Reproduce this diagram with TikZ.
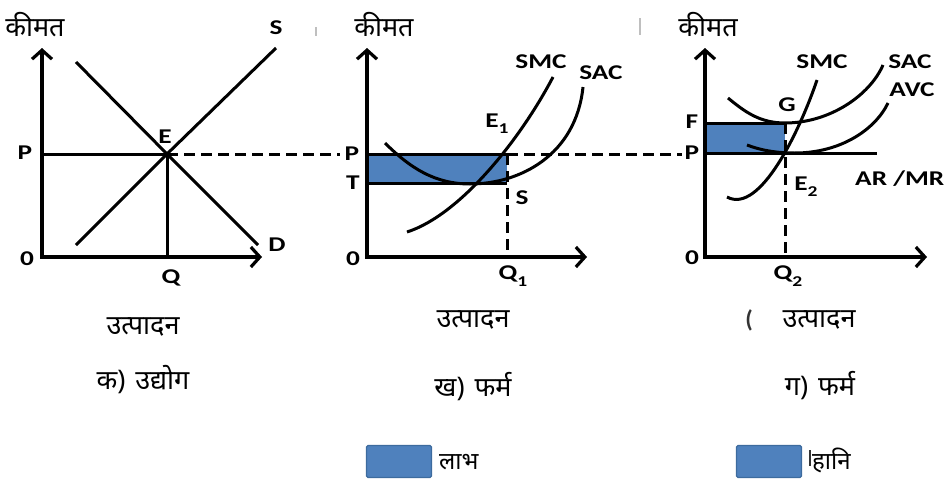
\documentclass[tikz,border=0pt]{standalone}
\usepackage{fontspec}
\setmainfont{Carlito}
\newfontfamily\hindi[Script=Devanagari]{Noto Sans}
\usetikzlibrary{arrows.meta}
\definecolor{areablue}{HTML}{4F81BD}
\definecolor{areaedge}{HTML}{3D6B9E}
\newcommand\sx[1]{\scalebox{1.3}[1]{#1}}
\newcommand\sub[1]{\raisebox{-0.3em}{\fontsize{15}{15}\selectfont #1}}
\begin{document}
\begin{tikzpicture}[x=1pt,y=-1pt,
  axis/.style={line width=3.2pt, line join=miter, {Straight Barb[length=9pt,width=20pt]}-{Straight Barb[length=9pt,width=20pt]}},
  curve/.style={line width=3pt},
  guide/.style={line width=3pt},
  dashline/.style={line width=3pt, dash pattern=on 11pt off 6pt},
  lbl/.style={font=\fontsize{21}{21}\selectfont\bfseries, inner sep=0pt},
  hin/.style={font=\hindi\fontsize{27}{30}\selectfont, inner sep=0pt},
  hintop/.style={font=\hindi\fontsize{27}{30}\selectfont, inner sep=0pt},
  hinleg/.style={font=\hindi\fontsize{24}{26}\selectfont, inner sep=0pt},
  legbox/.style={fill=areablue, draw=areaedge, line width=1.2pt, rounded corners=1.5pt},
  stray/.style={draw=black!25, line width=1.5pt}
]
\useasboundingbox (0,0) rectangle (949,479);

% ---------- Panel 1 ----------
\coordinate (Y1) at (42,48);
\coordinate (O1) at (42,257);
\coordinate (X1) at (262,257);
\coordinate (P1) at (42,154);
\coordinate (E) at (167,154);
\coordinate (Q) at (167,257);
\draw[axis] (Y1) -- (O1) -- (X1);
\draw[guide] (P1) -- (E) -- (Q);
\coordinate (Dt) at (76,62);
\coordinate (Db) at (258,245);
\coordinate (Sb) at (76,245);
\coordinate (St) at (276,48);
\draw[curve] (Dt) -- (E) -- (Db);
\draw[curve] (Sb) -- (E) -- (St);
\coordinate (Pd2) at (340,154);
\draw[dashline] (E) -- (Pd2);

\node[hintop] (k1) at (35,25) {कीमत};
\node[lbl] (lS) at (276,28) {\sx{S}};
\node[lbl] (lP1) at (25,153) {\sx{P}};
\node[lbl] (lE) at (165,137) {\sx{E}};
\node[lbl] (l01) at (27,259) {\sx{0}};
\node[lbl] (lQ) at (171,278) {\sx{Q}};
\node[lbl] (lD) at (277,245) {\sx{D}};

% ---------- Panel 2 ----------
\coordinate (Y2) at (367,48);
\coordinate (O2) at (367,257);
\coordinate (X2) at (587,257);
\coordinate (P2) at (367,154);
\coordinate (T2) at (367,183);
\coordinate (E1) at (507,154);
\coordinate (S2) at (507,183);
\coordinate (Q1) at (507,257);
\fill[areablue] (P2) rectangle (S2);
\draw[axis] (Y2) -- (O2) -- (X2);
\draw[guide] (P2) -- (E1);
\draw[guide] (T2) -- (S2);
\draw[dashline] (E1) -- (Q1);
\coordinate (Pd3) at (682,154);
\draw[dashline] (E1) -- (Pd3);
\draw[curve] (407,232) .. controls (460,215) and (520,140) .. (553,77);
\draw[curve] (385,143) .. controls (410,168) and (435,184) .. (470,184)
             .. controls (520,184) and (576,155) .. (583,87);

\node[hintop] (k2) at (384,25) {कीमत};
\node[lbl] (lP2) at (352,154) {\sx{P}};
\node[lbl] (lT) at (353,183) {\sx{T}};
\node[lbl] (l02) at (353,259) {\sx{0}};
\node[lbl] (lQ1) at (513,276) {\sx{Q\sub{1}}};
\node[lbl] (lS2) at (522,198) {\sx{S}};
\node[lbl] (lE1) at (497,124) {\sx{E\sub{1}}};
\node[lbl] (lSMC2) at (541,62) {\sx{SMC}};
\node[lbl] (lSAC2) at (601,73) {\sx{SAC}};

% ---------- Panel 3 ----------
\coordinate (Y3) at (705,48);
\coordinate (O3) at (705,257);
\coordinate (X3) at (927,257);
\coordinate (F3) at (705,123);
\coordinate (P3) at (705,153);
\coordinate (G) at (785,123);
\coordinate (E2) at (785,153);
\coordinate (ARend) at (877,153);
\coordinate (Q2) at (785,257);
\fill[areablue] (F3) rectangle (E2);
\draw[axis] (Y3) -- (O3) -- (X3);
\draw[guide] (F3) -- (G);
\draw[guide] (P3) -- (ARend);
\draw[dashline] (G) -- (Q2);
% SAC
\draw[curve] (728,98) .. controls (745,112) and (760,123) .. (785,123)
             .. controls (830,123) and (870,95) .. (883,65);
% AVC
\draw[curve] (747,145) .. controls (760,150) and (775,153) .. (795,153)
             .. controls (840,153) and (875,130) .. (888,103);
% SMC
\draw[curve] (727,197) .. controls (760,215) and (800,130) .. (817,80);

\node[hintop] (k3) at (708,25) {कीमत};
\node[lbl] (lF) at (692,122) {\sx{F}};
\node[lbl] (lP3) at (692,153) {\sx{P}};
\node[lbl] (l03) at (692,258) {\sx{0}};
\node[lbl] (lQ2) at (788,276) {\sx{Q\sub{2}}};
\node[lbl] (lE2) at (806,187) {\sx{E\sub{2}}};
\node[lbl] (lG) at (787,105) {\sx{G}};
\node[lbl] (lSMC3) at (822,62) {\sx{SMC}};
\node[lbl] (lSAC3) at (910,62) {\sx{SAC}};
\node[lbl] (lAVC) at (912,90) {\sx{AVC}};
\node[lbl, anchor=west] (lAR) at (855,179) {\sx{AR /MR}};

% ---------- Captions ----------
\node[hin] (c1a) at (143,327) {उत्पादन};
\node[hin] (c1b) at (143,380) {क)\hspace{10pt}उद्योग};
\node[hin] (c2a) at (473,320) {उत्पादन};
\node[hin] (c2b) at (473,387) {ख)\hspace{10pt}फर्म};
\node[font=\fontsize{24}{24}\selectfont\bfseries, text=black!80, inner sep=0pt] (paren) at (749,320) {(};
\node[hin] (c3a) at (819,320) {उत्पादन};
\node[hin] (c3b) at (820,386) {ग)\hspace{10pt}फर्म};

% ---------- Legend ----------
\node[legbox, minimum width=65pt, minimum height=32pt, inner sep=0pt] (box1) at (399,461.5) {};
\node[hinleg, anchor=base west] (lab1) at (439,469) {लाभ};
\node[legbox, minimum width=65pt, minimum height=32pt, inner sep=0pt] (box2) at (769,461.5) {};
\coordinate (bar1) at (810,450);
\coordinate (bar2) at (810,466);
\draw[line width=1.3pt, black!80] (bar1) -- (bar2);
\node[hinleg, anchor=base west] (lab2) at (812,469) {हानि};

% stray marks
\coordinate (m1a) at (316,27);
\coordinate (m1b) at (316,36);
\draw[stray] (m1a) -- (m1b);
\coordinate (m2a) at (640,18);
\coordinate (m2b) at (640,35);
\draw[stray] (m2a) -- (m2b);
\end{tikzpicture}
\end{document}
